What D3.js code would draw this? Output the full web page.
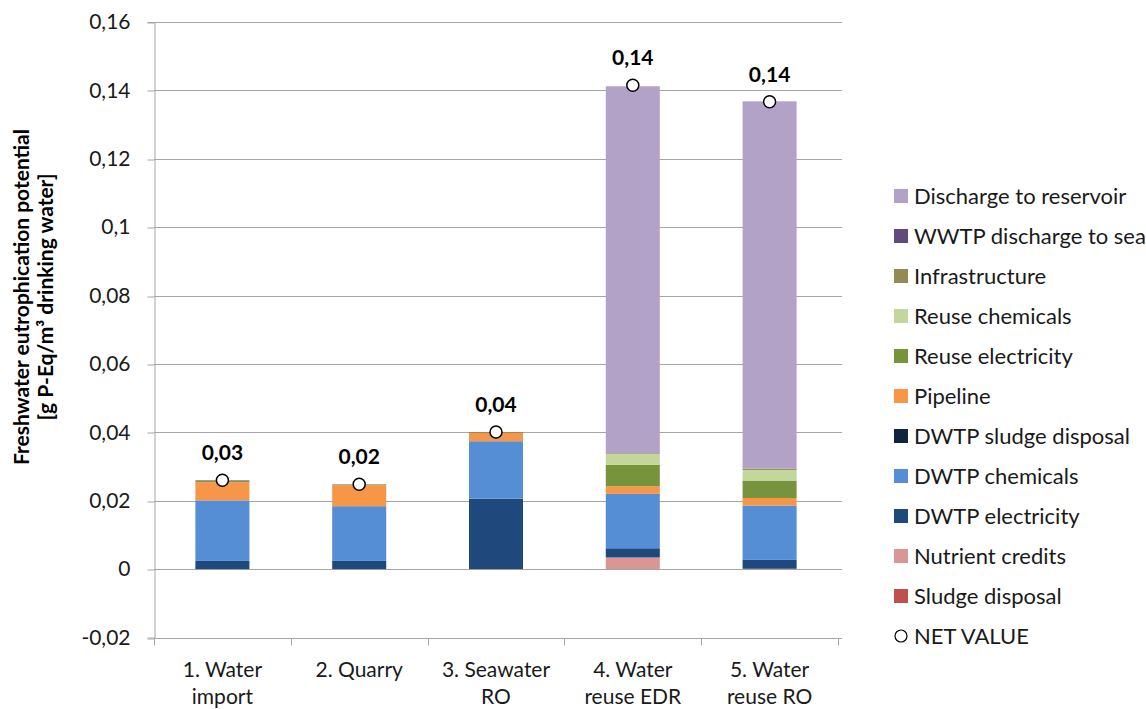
<!DOCTYPE html>
<html>
<head>
<meta charset="utf-8">
<script src="https://cdn.jsdelivr.net/npm/d3@7"></script>
<style>
  body { margin: 0; background: #fff; }
  svg { display: block; font-family: Lato, "Open Sans", sans-serif; }
</style>
</head>
<body>
<svg id="chart" width="1146" height="709"></svg>
<script>
// Scenarios (two-line labels)
const categories = ["1. Water import", "2. Quarry", "3. Seawater RO", "4. Water reuse EDR", "5. Water reuse RO"];
const categoryLines = [["1. Water", "import"], ["2. Quarry", ""], ["3. Seawater", "RO"], ["4. Water", "reuse EDR"], ["5. Water", "reuse RO"]];

// Contributions per scenario, g P-Eq per m³ drinking water (stack order, bottom to top)
const sludgeDisposal      = [0,      0,      0,      0,      0];
const nutrientCredits     = [0,      0,      0,      0.0034, 0.0001];
const dwtpElectricity     = [0.0024, 0.0024, 0.0206, 0.0027, 0.0026];
const dwtpChemicals       = [0.0177, 0.0160, 0.0168, 0.0159, 0.0159];
const dwtpSludgeDisposal  = [0,      0,      0,      0,      0];
const pipeline            = [0.0053, 0.0061, 0.0024, 0.0022, 0.0022];
const reuseElectricity    = [0,      0,      0,      0.0063, 0.0051];
const reuseChemicals      = [0,      0,      0,      0.0032, 0.0031];
const infrastructure      = [0.0006, 0.0003, 0.0003, 0.0002, 0.0004];
const wwtpDischargeToSea  = [0,      0,      0,      0,      0];
const dischargeReservoir  = [0,      0,      0,      0.1073, 0.1074];

// Net value per scenario
const netValue = [0.0260, 0.0248, 0.0401, 0.1415, 0.1367];

// Y axis ticks
const yTicks = [-0.02, 0, 0.02, 0.04, 0.06, 0.08, 0.1, 0.12, 0.14, 0.16];
const yTickLabels = ["-0,02", "0", "0,02", "0,04", "0,06", "0,08", "0,1", "0,12", "0,14", "0,16"];

const series = [
  { name: "Sludge disposal",          values: sludgeDisposal,     color: "#c0504d" },
  { name: "Nutrient credits",         values: nutrientCredits,    color: "#d99694" },
  { name: "DWTP electricity",         values: dwtpElectricity,    color: "#1f497d" },
  { name: "DWTP chemicals",           values: dwtpChemicals,      color: "#558ed5" },
  { name: "DWTP sludge disposal",     values: dwtpSludgeDisposal, color: "#10243e" },
  { name: "Pipeline",                 values: pipeline,           color: "#f79646" },
  { name: "Reuse electricity",        values: reuseElectricity,   color: "#77933c" },
  { name: "Reuse chemicals",          values: reuseChemicals,     color: "#c3d69b" },
  { name: "Infrastructure",           values: infrastructure,     color: "#948a54" },
  { name: "WWTP discharge to sea",    values: wwtpDischargeToSea, color: "#604a7b" },
  { name: "Discharge to reservoir",   values: dischargeReservoir, color: "#b3a2c7" }
];

const table = categories.map((c, i) => {
  const row = { category: c };
  series.forEach(s => { row[s.name] = s.values[i]; });
  return row;
});

const svg = d3.select("#chart");
const plot = { left: 154, right: 838, top: 22, bottom: 637.5 };

const x = d3.scaleBand()
  .domain(categories)
  .range([plot.left, plot.right])
  .paddingInner(0.605)
  .paddingOuter(0.3025);

const y = d3.scaleLinear()
  .domain([-0.02, 0.16])
  .range([plot.bottom, plot.top]);

const gridColor = "#a6a6a6";
const textColor = "#1a1a1a";

// Horizontal gridlines
svg.append("g")
  .selectAll("line")
  .data(yTicks.filter(t => t > -0.02))
  .join("line")
  .attr("x1", plot.left).attr("x2", plot.right + 4)
  .attr("y1", d => Math.round(y(d)) + 0.5).attr("y2", d => Math.round(y(d)) + 0.5)
  .attr("stroke", gridColor).attr("stroke-width", 1);

// Y axis
const yAxis = d3.axisLeft(y)
  .tickValues(yTicks)
  .tickFormat((d, i) => yTickLabels[i])
  .tickSize(7)
  .tickPadding(17);

const gy = svg.append("g")
  .attr("transform", `translate(${plot.left + 0.5},0)`)
  .call(yAxis);
gy.select(".domain").attr("stroke", gridColor);
gy.selectAll(".tick line").attr("stroke", gridColor)
  .attr("transform", d => `translate(0,${Math.round(y(d)) + 0.5 - y(d)})`);
gy.selectAll(".tick text")
  .attr("fill", textColor)
  .style("font-size", "21px")
  .style("font-family", "Lato, sans-serif");

// Bottom axis at the lower end of the value range
const step = x.step();
const boundaries = d3.range(categories.length + 1).map(i => plot.left + i * step);
const axisY = Math.round(y(-0.02)) + 0.5;
svg.append("line")
  .attr("x1", plot.left).attr("x2", plot.right + 4)
  .attr("y1", axisY).attr("y2", axisY)
  .attr("stroke", gridColor);
svg.append("g")
  .selectAll("line")
  .data(boundaries)
  .join("line")
  .attr("x1", d => Math.round(d) + 0.5).attr("x2", d => Math.round(d) + 0.5)
  .attr("y1", axisY).attr("y2", axisY + 7)
  .attr("stroke", gridColor);

// Category labels
const catLabels = svg.append("g")
  .selectAll("text")
  .data(categories)
  .join("text")
  .attr("x", d => x(d) + x.bandwidth() / 2)
  .attr("y", 677)
  .attr("text-anchor", "middle")
  .attr("fill", textColor)
  .style("font-size", "21px");
catLabels.each(function (d, i) {
  const t = d3.select(this);
  categoryLines[i].forEach((line, j) => {
    t.append("tspan")
      .attr("x", x(d) + x.bandwidth() / 2)
      .attr("dy", j === 0 ? 0 : 27)
      .text(line);
  });
});

// Stacked bars
const stack = d3.stack().keys(series.map(s => s.name));
const stacked = stack(table);

svg.append("g")
  .selectAll("g")
  .data(stacked)
  .join("g")
  .attr("fill", (d, i) => series[i].color)
  .selectAll("rect")
  .data(d => d)
  .join("rect")
  .attr("x", d => x(d.data.category))
  .attr("width", x.bandwidth())
  .attr("y", d => y(d[1]))
  .attr("height", d => Math.max(0, y(d[0]) - y(d[1])));

// Net value markers and labels
const fmt = v => d3.format(".2f")(v).replace(".", ",");

svg.append("g")
  .selectAll("circle")
  .data(netValue)
  .join("circle")
  .attr("cx", (d, i) => x(categories[i]) + x.bandwidth() / 2)
  .attr("cy", d => y(d))
  .attr("r", 6)
  .attr("fill", "#fff")
  .attr("stroke", "#000")
  .attr("stroke-width", 1.5);

svg.append("g")
  .selectAll("text")
  .data(netValue)
  .join("text")
  .attr("x", (d, i) => x(categories[i]) + x.bandwidth() / 2)
  .attr("y", d => y(d) - 20)
  .attr("text-anchor", "middle")
  .attr("fill", "#000")
  .style("font-size", "21px")
  .style("font-weight", "bold")
  .text(d => fmt(d));

// Y axis title
const title = svg.append("text")
  .attr("transform", "translate(0,297) rotate(-90)")
  .attr("text-anchor", "middle")
  .attr("fill", "#000")
  .style("font-size", "21px")
  .style("font-weight", "bold");
title.append("tspan").attr("x", 0).attr("y", 29).text("Freshwater eutrophication potential");
title.append("tspan").attr("x", 0).attr("y", 53).text("[g P-Eq/m³ drinking water]");

// Legend (reverse of stack order, then the net marker)
const legendItems = series.slice().reverse();
const legend = svg.append("g").attr("transform", "translate(894,196)");
const rowH = 40;

legend.selectAll("rect")
  .data(legendItems)
  .join("rect")
  .attr("x", 0)
  .attr("y", (d, i) => i * rowH - 7)
  .attr("width", 14)
  .attr("height", 14)
  .attr("fill", d => d.color);

legend.append("circle")
  .attr("cx", 7)
  .attr("cy", legendItems.length * rowH)
  .attr("r", 6)
  .attr("fill", "#fff")
  .attr("stroke", "#000")
  .attr("stroke-width", 1.2);

legend.selectAll("text")
  .data(legendItems.map(d => d.name).concat(["NET VALUE"]))
  .join("text")
  .attr("x", 20)
  .attr("y", (d, i) => i * rowH)
  .attr("dy", "0.35em")
  .attr("fill", textColor)
  .style("font-size", "22px")
  .text(d => d);
</script>
</body>
</html>
